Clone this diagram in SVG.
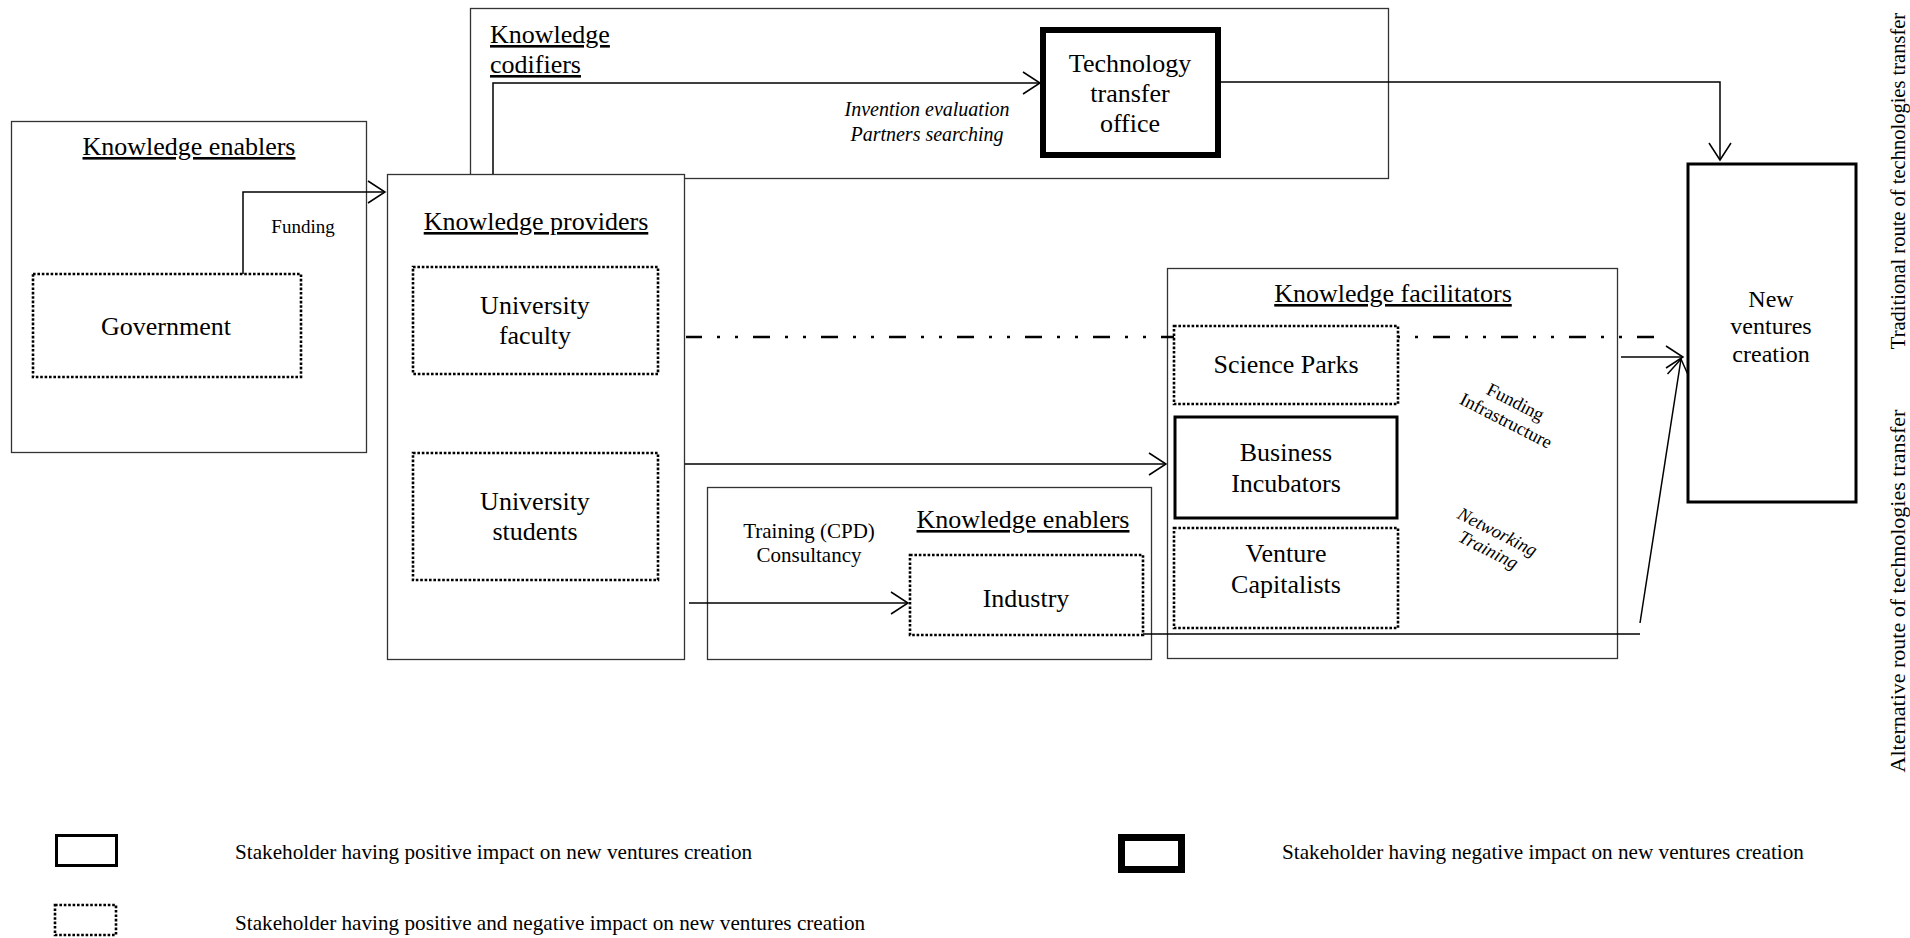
<svg xmlns="http://www.w3.org/2000/svg" width="1910" height="938" viewBox="0 0 1910 938">
  <style>
    .t { font-family: "Liberation Serif", "Times New Roman", serif; fill: #000; }
    .title { font-size: 26px; text-decoration: underline; }
    .lbl { font-size: 26px; text-anchor: middle; }
    .note { font-size: 20px; text-anchor: middle; }
    .it { font-style: italic; }
    .leg { font-size: 21.2px; }
    .side { text-anchor: middle; }
    .box { fill: #fff; stroke: #333; stroke-width: 1.3; }
    .dot { fill: #fff; stroke: #000; stroke-width: 2.6; stroke-dasharray: 2.6 1.8; }
    .med { fill: #fff; stroke: #000; stroke-width: 3; }
    .thick { fill: #fff; stroke: #000; stroke-width: 6; }
    .conn { fill: none; stroke: #000; stroke-width: 1.5; }
    .dashdot { fill: none; stroke: #000; stroke-width: 2.5; stroke-dasharray: 17 15 3 15 3 15; stroke-dashoffset: 1; }
  </style>
  <defs>
    <marker id="arr" markerUnits="userSpaceOnUse" markerWidth="20" markerHeight="24" viewBox="0 0 20 24" refX="18" refY="12" orient="auto">
      <path d="M1,1 L18,12 L1,23" fill="none" stroke="#000" stroke-width="1.5"/>
    </marker>
  </defs>

  <!-- container groups -->
  <g id="knowledge-codifiers">
    <rect class="box" x="470.5" y="8.5" width="918" height="170"/>
    <text class="t title" x="490" y="43">Knowledge</text>
    <text class="t title" x="490" y="73">codifiers</text>
  </g>
  <g id="knowledge-providers">
    <rect class="box" x="387.5" y="174.5" width="297" height="485"/>
    <text class="t title" x="536" y="230" text-anchor="middle">Knowledge providers</text>
  </g>
  <g id="knowledge-enablers-gov">
    <rect class="box" x="11.5" y="121.5" width="355" height="331"/>
    <text class="t title" x="189" y="155" text-anchor="middle">Knowledge enablers</text>
  </g>
  <g id="knowledge-enablers-industry">
    <rect class="box" x="707.5" y="487.5" width="444" height="172"/>
    <text class="t title" x="1023" y="528" text-anchor="middle">Knowledge enablers</text>
  </g>
  <g id="knowledge-facilitators">
    <rect class="box" x="1167.5" y="268.5" width="450" height="390"/>
    <text class="t title" x="1393" y="302" text-anchor="middle">Knowledge facilitators</text>
  </g>

  <!-- connectors -->
  <g id="connectors">
    <path class="conn" d="M243,274 V192 H385" marker-end="url(#arr)"/>
    <text class="t" x="303" y="233" font-size="19" text-anchor="middle">Funding</text>
    <path class="conn" d="M493,174 V83 H1040" marker-end="url(#arr)"/>
    <text class="t note it" x="927" y="116">Invention evaluation</text>
    <text class="t note it" x="927" y="141">Partners searching</text>
    <path class="conn" d="M1221,82 H1720 V160" marker-end="url(#arr)"/>
    <path class="dashdot" d="M686,337 H1654"/>
    <path class="conn" d="M685,464 H1166" marker-end="url(#arr)"/>
    <path class="conn" d="M689,603 H908" marker-end="url(#arr)"/>
    <text class="t" x="809" y="538" font-size="21" text-anchor="middle">Training (CPD)</text>
    <text class="t" x="809" y="562" font-size="21" text-anchor="middle">Consultancy</text>
    <path class="conn" d="M1621,357 H1683" marker-end="url(#arr)"/>
    <path class="conn" d="M1143,634 H1640"/>
    <path class="conn" d="M1640,623 L1681,359" marker-end="url(#arr)"/>
    <g transform="translate(1511,411) rotate(27)">
      <text class="t" x="0" y="-4" font-size="18.5" text-anchor="middle">Funding</text>
      <text class="t" x="0" y="17" font-size="18.5" text-anchor="middle">Infrastructure</text>
    </g>
    <g transform="translate(1493,541) rotate(27)">
      <text class="t it" x="0" y="-4" font-size="18.5" text-anchor="middle">Networking</text>
      <text class="t it" x="0" y="16" font-size="18.5" text-anchor="middle">Training</text>
    </g>
  </g>

  <!-- stakeholder nodes -->
  <g id="government">
    <rect class="dot" x="33" y="274" width="268" height="103"/>
    <text class="t lbl" x="166" y="335">Government</text>
  </g>
  <g id="university-faculty">
    <rect class="dot" x="413" y="267" width="245" height="107"/>
    <text class="t lbl" x="535" y="314">University</text>
    <text class="t lbl" x="535" y="344">faculty</text>
  </g>
  <g id="university-students">
    <rect class="dot" x="413" y="453" width="245" height="127"/>
    <text class="t lbl" x="535" y="510">University</text>
    <text class="t lbl" x="535" y="540">students</text>
  </g>
  <g id="technology-transfer-office">
    <rect class="thick" x="1043" y="30" width="175" height="125"/>
    <text class="t lbl" x="1130" y="72">Technology</text>
    <text class="t lbl" x="1130" y="102">transfer</text>
    <text class="t lbl" x="1130" y="132">office</text>
  </g>
  <g id="science-parks">
    <rect class="dot" x="1174" y="326" width="224" height="78"/>
    <text class="t lbl" x="1286" y="373">Science Parks</text>
  </g>
  <g id="business-incubators">
    <rect class="med" x="1175" y="417" width="222" height="101"/>
    <text class="t lbl" x="1286" y="461">Business</text>
    <text class="t lbl" x="1286" y="492">Incubators</text>
  </g>
  <g id="venture-capitalists">
    <rect class="dot" x="1174" y="528" width="224" height="100"/>
    <text class="t lbl" x="1286" y="562">Venture</text>
    <text class="t lbl" x="1286" y="593">Capitalists</text>
  </g>
  <g id="industry">
    <rect class="dot" x="910" y="555" width="233" height="80"/>
    <text class="t lbl" x="1026" y="607">Industry</text>
  </g>
  <g id="new-ventures-creation">
    <rect class="med" x="1688" y="164" width="168" height="338"/>
    <text class="t" x="1771" y="307" font-size="24" text-anchor="middle">New</text>
    <text class="t" x="1771" y="334" font-size="24" text-anchor="middle">ventures</text>
    <text class="t" x="1771" y="362" font-size="24" text-anchor="middle">creation</text>
  </g>

  <!-- route captions -->
  <g id="route-labels">
    <text class="t side" font-size="20.5" transform="translate(1905,181) rotate(-90)">Traditional route of technologies transfer</text>
    <text class="t side" font-size="22" transform="translate(1905,591) rotate(-90)">Alternative route of technologies transfer</text>
  </g>

  <!-- legend -->
  <g id="legend">
    <rect class="med" x="56.5" y="835.5" width="60" height="30"/>
    <text class="t leg" x="235" y="859">Stakeholder having positive impact on new ventures creation</text>
    <rect fill="#fff" stroke="#000" stroke-width="7" x="1121.5" y="837.5" width="60" height="32"/>
    <text class="t leg" x="1282" y="859">Stakeholder having negative impact on new ventures creation</text>
    <rect class="dot" x="55" y="905" width="61" height="30"/>
    <text class="t leg" x="235" y="930">Stakeholder having positive and negative impact on new ventures creation</text>
  </g>
</svg>
